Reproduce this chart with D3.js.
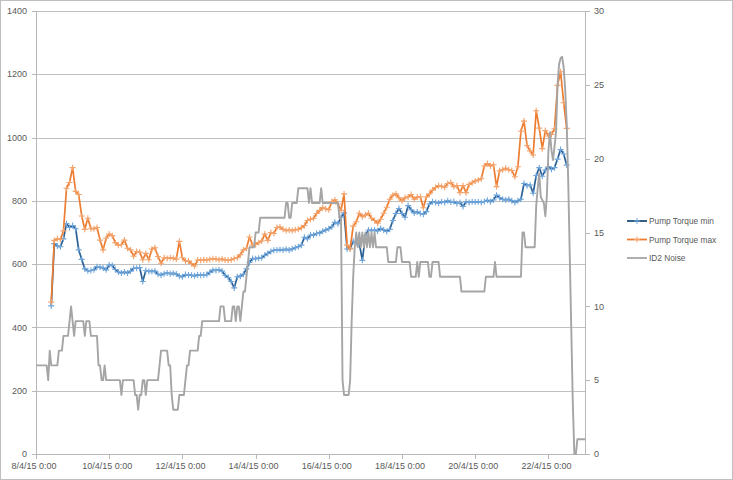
<!DOCTYPE html>
<html><head><meta charset="utf-8">
<script src="https://cdn.jsdelivr.net/npm/d3@7"></script>
<style>
body{margin:0;background:#fff}
svg{display:block}
text{font-family:"Liberation Sans",Arial,sans-serif;fill:#595959}
</style>
</head><body>
<svg id="chart" width="733" height="480"></svg>
<script>
// ---------------- data ----------------
const seriesNames = ["Pump Torque min", "Pump Torque max", "ID2 Noise"];

// torque readings every 2 hours starting 8/4/15 10:00
const torqueStart = "2015-04-08T10:00:00Z";
const torqueStepHours = 2;
const torqueMin = [
  468,665,657,655,680,728,716,722,712,645,
  615,585,579,580,582,592,590,588,582,597,
  596,583,575,572,575,572,578,587,587,589,
  545,580,577,577,578,568,566,570,572,570,
  571,569,562,560,567,566,565,563,566,565,
  566,567,574,581,580,582,578,565,558,545,
  525,560,562,568,585,605,618,617,619,620,
  628,634,640,644,645,646,645,647,645,648,
  652,655,660,685,680,692,692,697,698,704,
  708,712,718,732,728,748,762,648,650,672,
  668,666,612,690,708,706,708,705,713,708,
  703,710,738,760,776,760,748,785,772,762,
  765,760,758,766,790,797,795,793,797,795,
  800,796,798,792,795,782,797,795,797,796,
  797,795,798,802,797,803,818,810,805,803,
  805,800,795,800,805,855,848,850,824,880,
  905,878,897,908,900,905,932,962,948,913
];
const torqueMax = [
  480,675,680,678,705,840,858,905,830,820,
  752,710,745,712,712,716,676,645,682,695,
  690,668,660,662,676,650,645,625,640,638,
  614,634,614,648,652,624,603,620,618,620,
  619,616,672,620,610,610,602,594,613,612,
  614,613,615,617,616,614,616,613,612,614,
  618,620,630,645,650,686,660,662,668,673,
  695,675,700,697,716,717,710,706,708,706,
  709,710,715,722,738,742,745,760,770,779,
  775,772,797,803,790,770,822,660,648,720,
  734,761,750,755,761,745,738,729,742,761,
  780,805,818,822,810,800,810,812,820,805,
  812,813,778,812,822,834,842,848,846,843,
  855,858,845,848,826,848,826,852,857,863,
  866,870,910,918,910,914,845,895,898,903,
  898,896,876,908,1020,1052,975,958,945,1085,
  1030,965,1022,1005,1010,1028,1165,1208,1110,1029
];

// noise readings every hour starting 8/4/15 0:00, written as [value, number of consecutive hours]
const noiseStart = "2015-04-08T00:00:00Z";
const noiseStepHours = 1;
const noiseRuns = [
  [6,8],[5,1],[7,1],[6,5],[7,3],[8,4],[9,1],[10,1],[9,1],[8,1],
  [9,6],[8,1],[9,3],[8,5],[6,2],[5,2],[6,1],[5,10],[4,1],[5,8],
  [4,2],[3,1],[4,2],[5,2],[4,1],[5,8],[6,1],[7,5],[6,2],[4,1],
  [3,4],[4,4],[5,1],[6,2],[7,6],[8,2],[9,12],[10,3],[9,5],[10,2],
  [9,1],[10,2],[9,1],[10,1],[11,2],[12,1],[13,1],[14,4],[15,3],[16,17],
  [17,2],[16,2],[17,4],[18,7],[17,1],[18,1],[17,6],[18,1],[17,11],[16,2],
  [5,1],[4,4],[5,1],[9,1],[12,1],[14,1],
  [15,1],[14,1],[15,1],[14,1],[15,1],[14,1],[15,1],[14,1],[15,1],[14,1],[15,1],[14,1],[15,1],
  [14,8],[13,6],[14,3],[13,6],[12,4],[13,1],[12,1],[13,6],[12,2],[13,5],
  [12,14],[11,16],[12,6],[13,1],[12,17],[15,2],[14,7],
  [16.8,1],[18,1],[19,1],[17.4,1],[17.2,1],[17,1],[16.1,1],[17.5,1],[20.5,1],[21.8,1],
  [20.6,1],[19.9,1],[20.8,1],[21.8,1],[25,1],[26.4,1],[26.8,1],[26.9,1],[26.2,1],[24.7,1],
  [22.4,1],[18.5,1],[13.5,1],[8.5,1],[3.5,1],[0,2],[1,6]
];

const xTickDates = ["2015-04-08","2015-04-10","2015-04-12","2015-04-14","2015-04-16","2015-04-18","2015-04-20","2015-04-22"];
const xTickLabels = ["8/4/15 0:00","10/4/15 0:00","12/4/15 0:00","14/4/15 0:00","16/4/15 0:00","18/4/15 0:00","20/4/15 0:00","22/4/15 0:00"];
const leftTicks = [0,200,400,600,800,1000,1200,1400];
const rightTicks = [0,5,10,15,20,25,30];

// ---------------- build ----------------
const HOUR = 3600000;
const t0 = Date.parse(torqueStart);
const minPts = torqueMin.map((v,i)=>({t:new Date(t0+i*torqueStepHours*HOUR), v}));
const maxPts = torqueMax.map((v,i)=>({t:new Date(t0+i*torqueStepHours*HOUR), v}));
const n0 = Date.parse(noiseStart);
const noisePts = [];
noiseRuns.forEach(([v,c])=>{ for(let k=0;k<c;k++){ noisePts.push({t:new Date(n0+noisePts.length*noiseStepHours*HOUR), v}); } });

const L=36, R=585, T=11, B=454;
const svg = d3.select("#chart");
svg.append("rect").attr("x",0.5).attr("y",0.5).attr("width",732).attr("height",479)
  .attr("fill","#fff").attr("stroke","#bfbfbf");

const x = d3.scaleUtc().domain([new Date("2015-04-08T00:00:00Z"), new Date("2015-04-23T00:00:00Z")]).range([L,R]);
const yL = d3.scaleLinear().domain([0,1400]).range([B,T]);
const yR = d3.scaleLinear().domain([0,30]).range([B,T]);

// gridlines
svg.append("g").selectAll("line").data(leftTicks.filter(d=>d>0)).join("line")
  .attr("x1",L).attr("x2",R).attr("y1",d=>Math.round(yL(d))+0.5).attr("y2",d=>Math.round(yL(d))+0.5)
  .attr("stroke","#c0c0c0").attr("stroke-width",1.2);

// axes
const gAxis = svg.append("g").attr("stroke","#b8b8b8").attr("stroke-width",1);
gAxis.append("line").attr("x1",L+0.5).attr("x2",L+0.5).attr("y1",T).attr("y2",B);
gAxis.append("line").attr("x1",R+0.5).attr("x2",R+0.5).attr("y1",T).attr("y2",B);
gAxis.append("line").attr("x1",L).attr("x2",R+1).attr("y1",B+0.5).attr("y2",B+0.5);
gAxis.selectAll(".lt").data(leftTicks).join("line").attr("class","lt")
  .attr("x1",L-4).attr("x2",L).attr("y1",d=>Math.round(yL(d))+0.5).attr("y2",d=>Math.round(yL(d))+0.5);
gAxis.selectAll(".rt").data(rightTicks).join("line").attr("class","rt")
  .attr("x1",R).attr("x2",R+5).attr("y1",d=>Math.round(yR(d))+0.5).attr("y2",d=>Math.round(yR(d))+0.5);
gAxis.selectAll(".bt").data(xTickDates).join("line").attr("class","bt")
  .attr("x1",d=>Math.round(x(new Date(d+"T00:00:00Z")))+0.5).attr("x2",d=>Math.round(x(new Date(d+"T00:00:00Z")))+0.5)
  .attr("y1",B).attr("y2",B+5);

// labels
svg.append("g").selectAll("text").data(leftTicks).join("text")
  .attr("x",27).attr("y",d=>yL(d)+3.2).attr("text-anchor","end").attr("font-size",9).text(d=>d);
svg.append("g").selectAll("text").data(rightTicks).join("text")
  .attr("x",594).attr("y",d=>yR(d)+3.2).attr("text-anchor","start").attr("font-size",9).text(d=>d);
svg.append("g").selectAll("text").data(xTickDates).join("text")
  .attr("x",(d)=>x(new Date(d+"T00:00:00Z"))-2).attr("y",469).attr("text-anchor","middle").attr("font-size",9)
  .text((d,i)=>xTickLabels[i]);

// series
const lineL = d3.line().x(d=>x(d.t)).y(d=>yL(d.v));
const lineR = d3.line().x(d=>x(d.t)).y(d=>yR(d.v));
const plus = s => `M${-s},0H${s}M0,${-s}V${s}`;

function drawTorque(pts, lineColor, markColor){
  const g = svg.append("g");
  g.append("path").datum(pts).attr("d",lineL).attr("fill","none")
    .attr("stroke",lineColor).attr("stroke-width",1.7).attr("stroke-linejoin","round");
  g.selectAll("path.m").data(pts).join("path").attr("class","m")
    .attr("transform",d=>`translate(${x(d.t)},${yL(d.v)})`).attr("d",plus(3))
    .attr("stroke",markColor).attr("stroke-width",1.1).attr("fill","none");
}
drawTorque(minPts, "#2a5f94", "#6fa6dc");
drawTorque(maxPts, "#ed7d31", "#f3a36c");

svg.append("path").datum(noisePts).attr("d",lineR).attr("fill","none")
  .attr("stroke","#a5a5a5").attr("stroke-width",1.9).attr("stroke-linejoin","round");

// legend
const legend = [
  {name:seriesNames[0], line:"#1f4e79", mark:"#6fa6dc", y:221, ms:3},
  {name:seriesNames[1], line:"#ed7d31", mark:"#f3a36c", y:239.5, ms:3},
  {name:seriesNames[2], line:"#a5a5a5", mark:"#b8b8b8", y:258, ms:1.2}
];
const lg = svg.append("g").selectAll("g").data(legend).join("g").attr("transform",d=>`translate(627,${d.y})`);
lg.append("line").attr("x1",0).attr("x2",20).attr("stroke",d=>d.line).attr("stroke-width",1.8);
lg.append("path").attr("d",d=>plus(d.ms)).attr("transform","translate(10,0)").attr("stroke",d=>d.mark).attr("stroke-width",1);
lg.append("text").attr("x",22).attr("y",3).attr("font-size",8.3).text(d=>d.name);
</script>
</body></html>
